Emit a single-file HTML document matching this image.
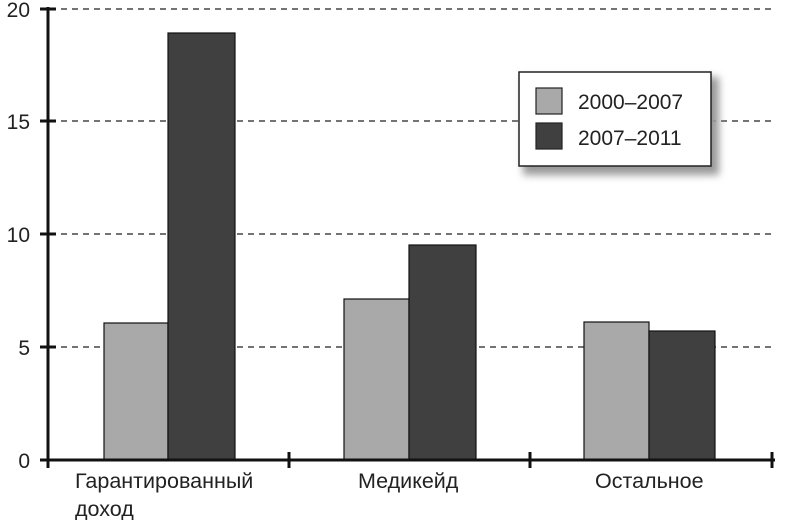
<!DOCTYPE html>
<html><head><meta charset="utf-8"><style>body{margin:0;background:#fff}</style></head><body>
<svg width="790" height="520" xmlns="http://www.w3.org/2000/svg" font-family="Liberation Sans, sans-serif">
<defs><filter id="b"><feGaussianBlur stdDeviation="4"/></filter></defs>
<g stroke="#222" stroke-width="1.3" stroke-dasharray="6,5">
<line x1="50" y1="9" x2="775" y2="9"/><line x1="50" y1="121" x2="775" y2="121"/>
<line x1="50" y1="234" x2="775" y2="234"/><line x1="50" y1="347" x2="775" y2="347"/>
</g>
<g stroke="#111" stroke-width="1.2">
<rect x="104" y="323" width="64" height="137" fill="#a9a9a9"/>
<rect x="168" y="33" width="67" height="427" fill="#404040"/>
<rect x="344" y="299" width="65" height="161" fill="#a9a9a9"/>
<rect x="409" y="245" width="67" height="215" fill="#404040"/>
<rect x="584" y="322" width="65" height="138" fill="#a9a9a9"/>
<rect x="649" y="331" width="66" height="129" fill="#404040"/>
</g>
<g stroke="#111" stroke-width="3">
<line x1="48" y1="7" x2="48" y2="468"/>
<line x1="40" y1="460" x2="775" y2="460"/>
<line x1="40" y1="9" x2="56" y2="9"/><line x1="40" y1="121" x2="56" y2="121"/>
<line x1="40" y1="234" x2="56" y2="234"/><line x1="40" y1="347" x2="56" y2="347"/>
<line x1="289" y1="452" x2="289" y2="468"/><line x1="530" y1="452" x2="530" y2="468"/><line x1="772" y1="452" x2="772" y2="468"/>
</g>
<g font-size="21" fill="#222" text-anchor="end">
<text x="30" y="17">20</text><text x="30" y="129">15</text><text x="30" y="242">10</text><text x="30" y="355">5</text><text x="30" y="468">0</text>
</g>
<g font-size="21.5" fill="#222">
<text x="75" y="488">Гарантированный</text><text x="75" y="516">доход</text>
<text x="358" y="488">Медикейд</text><text x="595" y="488">Остальное</text>
</g>
<rect x="523" y="77" width="196" height="98" fill="#999" filter="url(#b)"/>
<rect x="519" y="72" width="192" height="94" fill="#fff" stroke="#222" stroke-width="1.5"/>
<rect x="536" y="88" width="26" height="26" fill="#a9a9a9" stroke="#222" stroke-width="1.2"/>
<rect x="536" y="123" width="26" height="26" fill="#404040" stroke="#222" stroke-width="1.2"/>
<g font-size="21" fill="#222"><text x="578" y="109">2000–2007</text><text x="578" y="145">2007–2011</text></g>
</svg>
</body></html>
